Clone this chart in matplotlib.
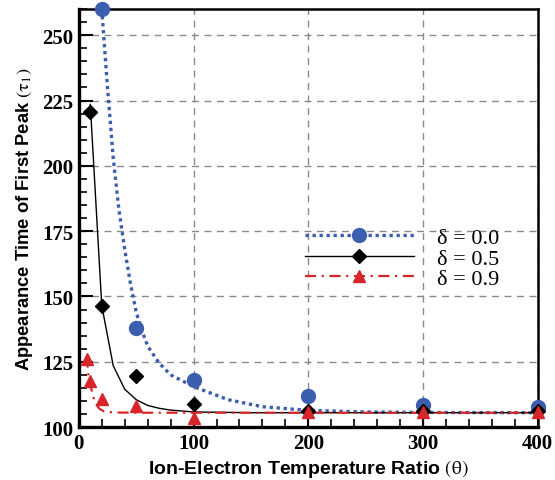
import numpy as np
import matplotlib
matplotlib.use('Agg')
import matplotlib.pyplot as plt
from matplotlib.ticker import MultipleLocator

plt.rcParams['mathtext.fontset'] = 'stix'

# measured points
theta_pts = [10, 20, 50, 100, 200, 300, 400]
tau_d00 = [None, 260, 138, 118, 112, 108.5, 107.8]
tau_d05 = [220.5, 146.5, 119.6, 108.8, 106.0, 106.0, 106.0]
theta_d09 = [7, 10, 20, 50, 100, 200, 300, 400]
tau_d09 = [126, 117.8, 110.8, 108.0, 103.3, 105.8, 105.8, 105.8]

# fitted curves
fit0_theta = [20, 22, 25, 30, 35, 40, 45, 50, 55, 60, 70, 80, 100, 130, 160, 200, 250, 300, 400]
fit0_tau = [260, 248, 230, 203, 183, 168, 155, 144, 137, 131, 124.5, 120, 115.5, 110.5, 107.8, 106.4, 105.8, 105.6, 105.5]
fit5_theta = [10, 20, 30, 40, 50, 60, 70, 80, 100, 150, 400]
fit5_tau = [223.5, 146.5, 123.5, 114.5, 110.5, 108.3, 107.2, 106.5, 105.8, 105.5, 105.5]
fit9_theta = [7, 8, 9.5, 11, 13, 15, 18, 22, 30, 50, 400]
fit9_tau = [127, 121, 117, 114.5, 111, 108.8, 107, 106, 105.6, 105.5, 105.5]

labels = ['δ = 0.0', 'δ = 0.5', 'δ = 0.9']

blue = '#3b5eaf'
red = '#d7262b'
dot = (0, (1, 1.1))
dashdot = (0, (5, 2.5, 1, 2.5))

fig = plt.figure(figsize=(5.55, 4.81), dpi=100)
ax = fig.add_axes([0.142, 0.110, 0.827, 0.869])

ax.plot(fit0_theta, fit0_tau, color=blue, lw=2.4, ls=dot, zorder=3)
ax.plot(fit5_theta, fit5_tau, color='black', lw=1.0, zorder=3)
ax.plot(fit9_theta, fit9_tau, color=red, lw=1.6, ls=dashdot, zorder=3)

x0 = [t for t, v in zip(theta_pts, tau_d00) if v is not None]
y0 = [v for v in tau_d00 if v is not None]
ax.plot(x0, y0, 'o', color=blue, ms=10, clip_on=False, zorder=5)
ax.plot(theta_pts, tau_d05, 'D', color='black', ms=7.5, clip_on=False, zorder=5)
ax.plot(theta_d09, tau_d09, '^', color=red, ms=8.5, clip_on=False, zorder=6)

# legend entries
h0, = ax.plot([], [], color=blue, lw=2.4, ls=dot, marker='o', ms=10)
h5, = ax.plot([], [], color='black', lw=1.0, marker='D', ms=7.5)
h9, = ax.plot([], [], color=red, lw=1.6, ls=dashdot, marker='^', ms=8.5)
leg = ax.legend([h0, h5, h9], labels,
                loc='center left', bbox_to_anchor=(0.492, 0.404), frameon=False,
                prop={'family': 'Liberation Serif', 'size': 16},
                handlelength=4.9, handletextpad=1.05, labelspacing=0.0,
                borderpad=0, borderaxespad=0, numpoints=1)

ax.set_xlim(0, 400)
ax.set_ylim(100, 260)
ax.xaxis.set_major_locator(MultipleLocator(100))
ax.xaxis.set_minor_locator(MultipleLocator(20))
ax.yaxis.set_major_locator(MultipleLocator(25))
ax.yaxis.set_minor_locator(MultipleLocator(5))
ax.tick_params(which='both', direction='in', top=False, right=False)
ax.tick_params(which='major', length=10, width=1.5, pad=4)
ax.tick_params(which='minor', length=6, width=1.2)
for lab in ax.get_xticklabels() + ax.get_yticklabels():
    lab.set_fontfamily('Liberation Serif')
    lab.set_fontweight('bold')
    lab.set_fontsize(15)

ax.grid(True, which='major', color='#8a8a8a', ls=(0, (5, 4)), lw=1.0)
for s in ['left', 'bottom']:
    ax.spines[s].set_linewidth(2.4)
for s in ['top', 'right']:
    ax.spines[s].set_linewidth(1.8)

ax.set_xlabel(r'Ion-Electron Temperature Ratio $\mathrm{(\theta)}$', fontfamily='Liberation Sans',
              fontweight='bold', fontsize=14, labelpad=3)
ax.set_ylabel(r'Appearance Time of First Peak $\mathrm{(\tau_1)}$', fontfamily='Liberation Sans',
              fontweight='bold', fontsize=13.2, labelpad=5)

fig.savefig('out.png', dpi=100)
